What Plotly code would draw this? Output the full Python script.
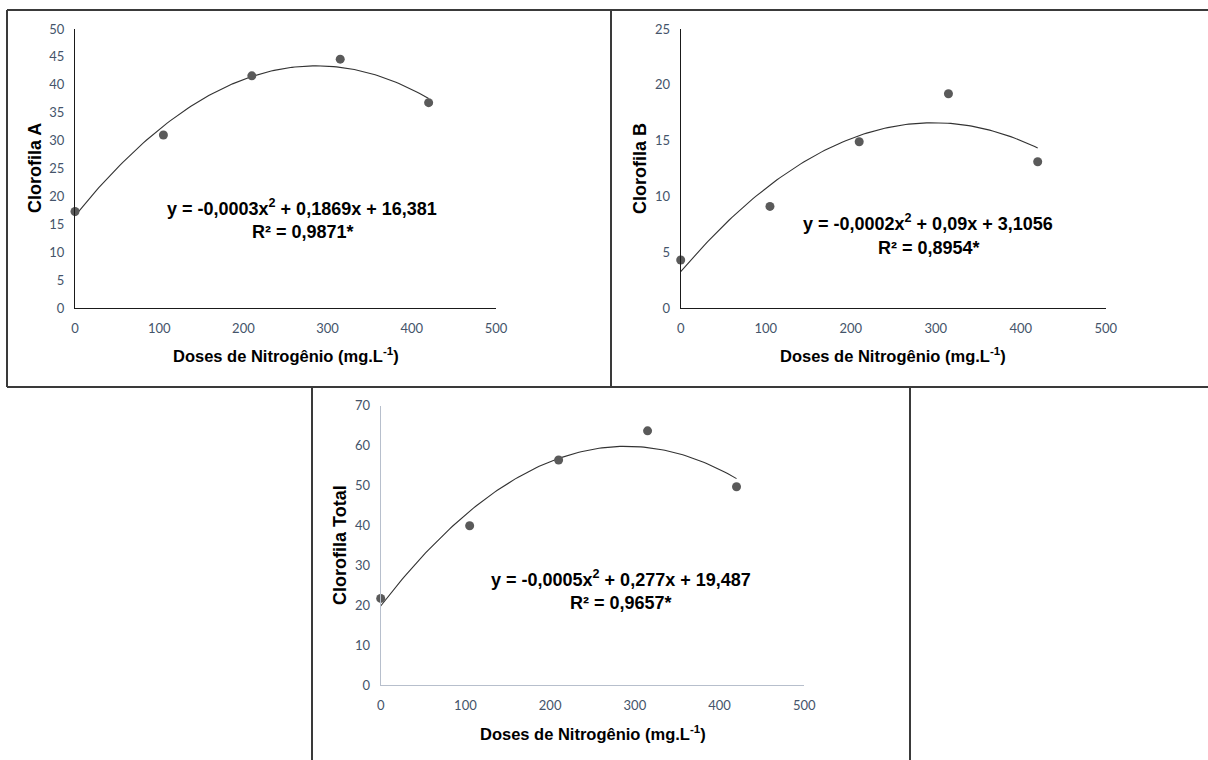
import numpy as np
import plotly.graph_objects as go

W, H = 1208, 760

# ---- data ----
doses = [0, 105, 210, 315, 420]
clorofila_a = [17.3, 31.0, 41.6, 44.6, 36.8]
clorofila_b = [4.3, 9.1, 14.9, 19.2, 13.1]
clorofila_total = [21.7, 39.9, 56.4, 63.7, 49.7]

eq_a = ["y = -0,0003x<sup>2</sup> + 0,1869x + 16,381", "R² = 0,9871*"]
eq_b = ["y = -0,0002x<sup>2</sup> + 0,09x + 3,1056", "R² = 0,8954*"]
eq_t = ["y = -0,0005x<sup>2</sup> + 0,277x + 19,487", "R² = 0,9657*"]

x_ticks = [0, 100, 200, 300, 400, 500]
x_title = "<b>Doses de Nitrogênio (mg.L<sup>-1</sup>)</b>"


def px(x):
    return x / W


def py(y):
    return 1 - y / H


fig = go.Figure()

panels = [
    dict(vals=clorofila_a, ymax=50, dy=5, xd=(75, 496), yd=(29, 308), ac="#1a1a1a",
         eq=eq_a, eqp=((302, 207), (303, 232)), yt="Clorofila A", ytp=(35, 168), xtp=(285.5, 355)),
    dict(vals=clorofila_b, ymax=25, dy=5, xd=(680.7, 1105.7), yd=(29, 308), ac="#1a1a1a",
         eq=eq_b, eqp=((928, 222), (929, 248)), yt="Clorofila B", ytp=(640, 169), xtp=(893, 355)),
    dict(vals=clorofila_total, ymax=70, dy=10, xd=(380.7, 804.3), yd=(405.7, 685), ac="#b7bfcc",
         eq=eq_t, eqp=((621, 578), (621, 603)), yt="Clorofila Total", ytp=(340, 545), xtp=(593, 733)),
]

annotations = []
tickfont = dict(family="Lato, Open Sans, sans-serif", size=13, color="#44546a")

for i, p in enumerate(panels, start=1):
    xa = "x" if i == 1 else f"x{i}"
    ya = "y" if i == 1 else f"y{i}"
    coef = np.polyfit(doses, p["vals"], 2)
    xs = np.linspace(min(doses), max(doses), 120)
    ys = np.polyval(coef, xs)
    fig.add_trace(go.Scatter(x=xs, y=ys, mode="lines", line=dict(color="#333333", width=1.1),
                             xaxis=xa, yaxis=ya, showlegend=False, cliponaxis=False, hoverinfo="skip"))
    fig.add_trace(go.Scatter(x=doses, y=p["vals"], mode="markers",
                             marker=dict(color="#5a5a5a", size=9),
                             xaxis=xa, yaxis=ya, showlegend=False, cliponaxis=False))
    xkey = "xaxis" if i == 1 else f"xaxis{i}"
    ykey = "yaxis" if i == 1 else f"yaxis{i}"
    fig.update_layout(**{
        xkey: dict(domain=[px(p["xd"][0]), px(p["xd"][1])], range=[0, 500], anchor=ya,
                   tickvals=x_ticks, showgrid=False, zeroline=False, showline=True,
                   linecolor=p["ac"], linewidth=1.2, ticks="outside", ticklen=8,
                   tickcolor="rgba(0,0,0,0)", tickfont=tickfont, fixedrange=True,
                   automargin=False),
        ykey: dict(domain=[py(p["yd"][1]), py(p["yd"][0])], range=[0, p["ymax"]], anchor=xa,
                   tickvals=list(range(0, p["ymax"] + 1, p["dy"])), showgrid=False, zeroline=False,
                   showline=True, linecolor=p["ac"], linewidth=1.2, ticks="outside", ticklen=7,
                   tickcolor="rgba(0,0,0,0)", tickfont=tickfont, fixedrange=True,
                   automargin=False),
    })
    for txt, (ex, ey) in zip(p["eq"], p["eqp"]):
        annotations.append(dict(text=f"<b>{txt}</b>", x=px(ex), y=py(ey), xref="paper", yref="paper",
                                xanchor="center", yanchor="middle", showarrow=False,
                                font=dict(family="Liberation Sans, Arial", size=18, color="#000000")))
    annotations.append(dict(text=f"<b>{p['yt']}</b>", x=px(p["ytp"][0]), y=py(p["ytp"][1]),
                            xref="paper", yref="paper", xanchor="center", yanchor="middle",
                            textangle=-90, showarrow=False,
                            font=dict(family="Liberation Sans, Arial", size=18, color="#000000")))
    annotations.append(dict(text=x_title, x=px(p["xtp"][0]), y=py(p["xtp"][1]),
                            xref="paper", yref="paper", xanchor="center", yanchor="middle",
                            showarrow=False,
                            font=dict(family="Liberation Sans, Arial", size=16.5, color="#000000")))

border = "#3a3a3a"
segs = [((7, 10), (1208, 10)), ((7, 387), (1208, 387)), ((7, 10), (7, 387)),
        ((611, 10), (611, 387)), ((312, 387), (312, 760)), ((910, 387), (910, 760))]
shapes = [dict(type="line", xref="paper", yref="paper", x0=px(a[0]), y0=py(a[1]),
               x1=px(b[0]), y1=py(b[1]), line=dict(color=border, width=2)) for a, b in segs]

fig.update_layout(width=W, height=H, margin=dict(l=0, r=0, t=0, b=0, autoexpand=False),
                  paper_bgcolor="white", plot_bgcolor="white",
                  annotations=annotations, shapes=shapes, showlegend=False)

fig.write_html("out.html", config={"displayModeBar": False},
               post_script="document.body.style.margin='0px';document.body.style.overflow='hidden';")
